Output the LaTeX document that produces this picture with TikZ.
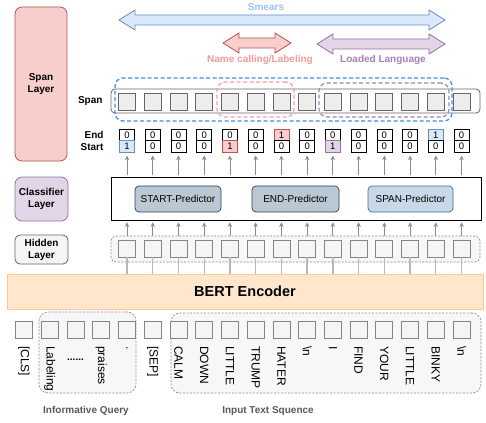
\documentclass[tikz,border=0pt]{standalone}
\usepackage{fontspec}
\setmainfont{Liberation Sans}
\usetikzlibrary{arrows.meta}
\definecolor{redF}{HTML}{F8CECC}\definecolor{redD}{HTML}{B85450}
\definecolor{purF}{HTML}{E1D5E7}\definecolor{purD}{HTML}{9673A6}
\definecolor{bluF}{HTML}{DAE8FC}\definecolor{bluD}{HTML}{6C8EBF}
\definecolor{grF}{HTML}{F5F5F5}\definecolor{grD}{HTML}{666666}
\definecolor{orF}{HTML}{FFE6CC}\definecolor{orD}{HTML}{FFC895}
\definecolor{predF}{HTML}{BAC8D3}\definecolor{predD}{HTML}{23445D}
\definecolor{spredF}{HTML}{C7D8E8}\definecolor{spredD}{HTML}{4A6A88}
\definecolor{smearT}{HTML}{99C2F5}\definecolor{nameT}{HTML}{F19C99}
\definecolor{loadT}{HTML}{A680B8}
\definecolor{dblue}{HTML}{3D8EF0}\definecolor{dred}{HTML}{FF9C9C}
\definecolor{arrG}{HTML}{8C8C8C}
\newcommand{\myfatarrow}[4]{%
 \draw[#4] (#1,#3) -- ++(16,-10) -- ++(0,5) -- ({#2-16},{#3-5}) -- ++(0,-5) -- (#2,#3)
   -- ++(-16,10) -- ++(0,-5) -- ({#1+16},{#3+5}) -- ++(0,5) -- cycle;}
\tikzset{
  f10/.style={font=\fontsize{10}{12}\selectfont},
  b10/.style={font=\bfseries\fontsize{10}{12}\selectfont},
  layerbox/.style={rounded corners=7pt, line width=0.8pt, b10, align=center, inner sep=0pt},
  tokbox/.style={draw=grD!80, fill=grF, line width=0.8pt, minimum size=17pt, inner sep=0pt},
  spanbox/.style={draw=grD, fill=black!7, line width=0.8pt, minimum size=17pt, inner sep=0pt},
  cell/.style={draw=black, fill=white, line width=0.7pt, minimum width=15pt, minimum height=11.5pt, inner sep=0pt, font=\fontsize{9.5}{11}\selectfont},
  cellB/.style={cell, draw=bluD, fill=bluF},
  cellR/.style={cell, draw=redD, fill=redF},
  cellP/.style={cell, draw=purD, fill=purF},
  pred/.style={draw=predD, fill=predF, rounded corners=4pt, f10, minimum height=26pt, inner sep=0pt, line width=0.7pt},
  upar/.style={draw=arrG, line width=0.8pt, -{Stealth[length=4.5pt,width=4.5pt]}},
  tokl/.style={rotate=-90, anchor=west, inner sep=0pt, font=\fontsize{12}{14}\selectfont},
  grp/.style={draw=black!45, dashed, dash pattern=on 2pt off 1.5pt, fill=black!3, rounded corners=9pt, line width=0.7pt, inner sep=0pt}
}
\begin{document}
\begin{tikzpicture}[x=1pt,y=-1pt]
\useasboundingbox[fill=white] (0,0) rectangle (486,422);

% left layer labels
\node[layerbox, draw=redD, fill=redF, minimum width=52pt, minimum height=154pt] (spanlayer) at (41,84) {Span\\Layer};
\node[layerbox, draw=purD, fill=purF, minimum width=53pt, minimum height=44pt] (clslayer) at (41.5,199) {Classifier\\Layer};
\node[layerbox, draw=grD, fill=grF, minimum width=53pt, minimum height=29pt, rounded corners=5pt] (hidlayer) at (41.5,249.5) {Hidden\\Layer};

% top fat arrows
\myfatarrow{119}{445}{20}{draw=bluD, fill=bluF, line width=0.8pt}
\myfatarrow{223}{291}{43}{draw=redD, fill=redF, line width=0.8pt}
\myfatarrow{317}{445}{44}{draw=purD, fill=purF, line width=0.8pt}
\node[b10, text=smearT] (smears) at (266,7) {Smears};
\node[b10, text=nameT] (namecall) at (260,60) {Name calling/Labeling};
\node[b10, text=loadT] (loaded) at (383,60) {Loaded Language};

% span row
\node[draw=grD, fill=white, rounded corners=4pt, minimum width=369pt, minimum height=24pt, line width=0.8pt] (spanrow) at (295.5,101) {};
\node[b10, anchor=east] (spanlbl) at (106,101) {Span};
\foreach \i in {0,...,13}{
  \pgfmathsetmacro{\xx}{24+25.74*(\i+4)}
  \node[spanbox] (sp\i) at (\xx,101.5) {};
}
\node[draw=dblue, dashed, dash pattern=on 4pt off 2.5pt, line width=1.3pt, rounded corners=8pt, minimum width=337pt, minimum height=43pt] (smearbox) at (283.5,99.5) {};
\node[draw=dred, dashed, dash pattern=on 4pt off 2.5pt, line width=1.2pt, rounded corners=8pt, minimum width=77pt, minimum height=35pt] (namebox) at (255.5,99.5) {};
\node[draw=loadT, dashed, dash pattern=on 4pt off 2.5pt, line width=1.2pt, rounded corners=8pt, minimum width=130pt, minimum height=34pt] (loadbox) at (384,100) {};

% end / start cells
\node[b10, anchor=east] (endlbl) at (107,134.5) {End};
\node[b10, anchor=east] (startlbl) at (107,147) {Start};
\foreach \v/\st [count=\i from 0] in {0/cell,0/cell,0/cell,0/cell,0/cell,0/cell,1/cellR,0/cell,0/cell,0/cell,0/cell,0/cell,1/cellB,0/cell}{
  \pgfmathsetmacro{\xx}{24+25.74*(\i+4)}
  \node[\st] (e\i) at (\xx,135) {\v};
}
\foreach \v/\st [count=\i from 0] in {1/cellB,0/cell,0/cell,0/cell,1/cellR,0/cell,0/cell,0/cell,1/cellP,0/cell,0/cell,0/cell,0/cell,0/cell}{
  \pgfmathsetmacro{\xx}{24+25.74*(\i+4)}
  \node[\st] (s\i) at (\xx,146.5) {\v};
}

% classifier
\node[draw=black, fill=white, line width=0.8pt, minimum width=370pt, minimum height=43pt] (cls) at (296,198.5) {};
\node[pred, minimum width=86pt] (startp) at (178,199) {START-Predictor};
\node[pred, minimum width=87pt] (endp) at (295.5,199) {END-Predictor};
\node[pred, draw=spredD, fill=spredF, minimum width=85pt] (spanp) at (410.5,199) {SPAN-Predictor};

% hidden layer
\node[draw=black!45, dashed, dash pattern=on 2pt off 1.5pt, fill=black!3, rounded corners=5pt, minimum width=369pt, minimum height=26pt, line width=0.7pt] (hidrow) at (295.5,249) {};
\foreach \i in {0,...,13}{
  \pgfmathsetmacro{\xx}{24+25.74*(\i+4)}
  \node[tokbox] (hid\i) at (\xx,248.5) {};
}

% BERT
\node[draw=orD, fill=orF, line width=1pt, minimum width=476pt, minimum height=35pt, font=\bfseries\fontsize{14.5}{17}\selectfont] (bert) at (245,291.5) {BERT Encoder};

\foreach \i in {0,...,13}{
  \draw[upar, shorten <=1.5pt, shorten >=3pt] (s\i.south |- cls.north) -- (s\i.south);
  \draw[upar, shorten >=2pt] (hid\i |- hidrow.north) -- (hid\i |- cls.south);
  \draw[draw=black!28, line width=1.3pt] (hid\i.south) -- (hid\i |- bert.north);
}

% bottom groups
\node[grp, minimum width=97pt, minimum height=81pt] (qgrp) at (87.5,352.5) {};
\node[grp, minimum width=310pt, minimum height=80pt] (tgrp) at (326,353) {};
\foreach \t [count=\j from 0] in {{[CLS]},Labeling,{},praises,.,{[SEP]},CALM,DOWN,LITTLE,TRUMP,HATER,{\textbackslash n},I,FIND,YOUR,LITTLE,BINKY,{\textbackslash n}}{
  \pgfmathsetmacro{\xx}{24+25.74*\j}
  \node[tokbox] (tok\j) at (\xx,329.5) {};
  \node[tokl] (tl\j) at (\xx,346) {\t};
}
\node[font=\bfseries\fontsize{10}{12}\selectfont] (dots) at (75.5,360) {......};
\node[b10, text=black!65] (iq) at (86,411) {Informative Query};
\node[b10, text=black!65] (its) at (268,411) {Input Text Squence};
\end{tikzpicture}
\end{document}
